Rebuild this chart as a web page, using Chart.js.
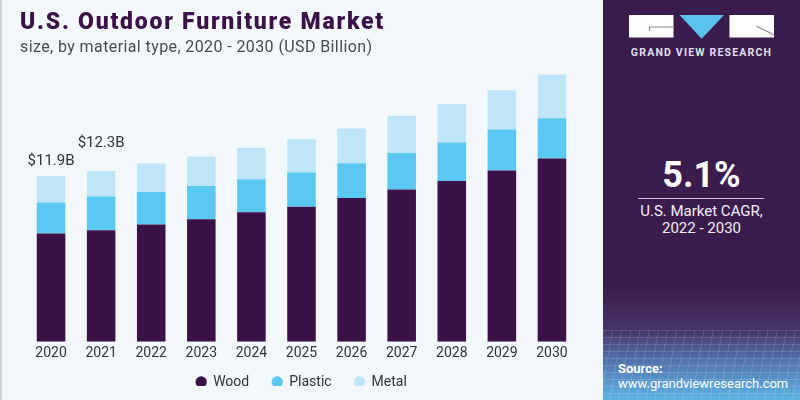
<!DOCTYPE html>
<html lang="en">
<head>
    <meta charset="UTF-8">
    <title>U.S. Outdoor Furniture Market</title>
    <style>
        body {
            margin: 0;
            width: 800px;
            height: 400px;
            position: relative;
            background-color: #f3f8fb;
            font-family: Roboto, "Liberation Sans", Arial, sans-serif;
            overflow: hidden;
        }

        .edge {
            position: absolute;
            left: 0;
            top: 0;
            width: 2px;
            height: 400px;
            background-color: #cfd3d8;
        }

        .title {
            position: absolute;
            left: 20px;
            top: 9px;
            margin: 0;
            font-size: 23px;
            line-height: 26px;
            font-weight: 900;
            letter-spacing: 1.75px;
            color: #3a1248;
            white-space: nowrap;
        }

        .subtitle {
            position: absolute;
            left: 20px;
            top: 38px;
            font-size: 16px;
            line-height: 18px;
            letter-spacing: 0.4px;
            color: #4a4a4a;
            white-space: nowrap;
        }

        #chartBox {
            position: absolute;
            left: 0;
            top: 0;
            width: 603px;
            height: 400px;
        }

        .panel {
            position: absolute;
            left: 603px;
            top: 0;
            width: 197px;
            height: 400px;
            background: linear-gradient(to bottom, #3a1d4d 0px, #3a1d4d 285px, #473468 330px, #5272ab 360px, #5db4e6 400px);
            color: #ffffff;
        }

        .panel .grid {
            position: absolute;
            left: 0;
            top: 330px;
            width: 197px;
            height: 70px;
            background:
                repeating-linear-gradient(to bottom, rgba(255,255,255,0.13) 0 1px, transparent 1px 7px),
                repeating-linear-gradient(100deg, rgba(255,255,255,0.12) 0 1px, transparent 1px 9px);
        }

        .logo {
            position: absolute;
            left: 26px;
            top: 15px;
        }

        .brand {
            position: absolute;
            left: 0;
            width: 197px;
            top: 46px;
            text-align: center;
            font-size: 10.5px;
            font-weight: 700;
            letter-spacing: 1.2px;
            color: #e4dff0;
        }

        .cagr {
            position: absolute;
            left: 0;
            width: 197px;
            top: 154px;
            text-align: center;
            font-size: 36px;
            font-weight: 700;
        }

        .rule {
            position: absolute;
            left: 35px;
            width: 126px;
            top: 198px;
            height: 1px;
            background-color: #cbbfe0;
        }

        .cagrText {
            position: absolute;
            left: 0;
            width: 197px;
            top: 203px;
            text-align: center;
            font-size: 15px;
            line-height: 17px;
            color: #f2eef8;
        }

        .source {
            position: absolute;
            left: 15px;
            top: 361px;
            font-size: 13px;
            line-height: 15px;
            color: #ffffff;
        }
    </style>
</head>
<body>

<div class="edge"></div>

<div id="chartBox">
    <canvas id="myChart" width="603" height="400"></canvas>
</div>

<div class="title">U.S. Outdoor Furniture Market</div>
<div class="subtitle">size, by material type, 2020 - 2030 (USD Billion)</div>

<div class="panel">
    <div class="grid"></div>
    <svg class="logo" width="146" height="25" viewBox="0 0 146 25">
        <rect x="0" y="0" width="44.5" height="22.5" fill="#ffffff"/>
        <path d="M20.5 16 V12 H44.5" stroke="#8a8a8a" stroke-width="1.2" fill="none"/>
        <polygon points="50.5,0 95,0 72.7,23.7" fill="#5bc1ee"/>
        <rect x="100.5" y="0" width="44.5" height="22.5" fill="#ffffff"/>
        <path d="M127.5 11.3 L145 19.7" stroke="#8a8a8a" stroke-width="1.2" fill="none"/>
    </svg>
    <div class="brand">GRAND VIEW RESEARCH</div>
    <div class="cagr">5.1%</div>
    <div class="rule"></div>
    <div class="cagrText">U.S. Market CAGR,<br>2022 - 2030</div>
    <div class="source"><b>Source:</b><br>www.grandviewresearch.com</div>
</div>

<script src="https://cdn.jsdelivr.net/npm/chart.js"></script>
<script>
    // Werte in Mrd. USD
    const years = ['2020', '2021', '2022', '2023', '2024', '2025', '2026', '2027', '2028', '2029', '2030'];
    const wood = [7.77, 8.00, 8.41, 8.79, 9.30, 9.68, 10.32, 10.93, 11.54, 12.29, 13.15];
    const plastic = [2.23, 2.42, 2.34, 2.39, 2.37, 2.47, 2.49, 2.61, 2.76, 2.94, 2.89];
    const metal = [1.90, 1.84, 2.04, 2.11, 2.25, 2.39, 2.49, 2.68, 2.77, 2.82, 3.14];
    const totalLabels = ['$11.9B', '$12.3B'];

    // Abstand der Summen-Beschriftung über dem Balken (px)
    const labelLift = [15, 28];

    const totalsPlugin = {
        id: 'totals',
        afterDatasetsDraw(chart) {
            const c = chart.ctx;
            const xs = chart.scales.x;
            const ys = chart.scales.y;
            c.save();
            c.font = '15px Roboto, "Liberation Sans", sans-serif';
            c.fillStyle = '#333333';
            c.textAlign = 'center';
            c.textBaseline = 'middle';
            totalLabels.forEach((txt, i) => {
                const sum = wood[i] + plastic[i] + metal[i];
                c.fillText(txt, xs.getPixelForValue(i), ys.getPixelForValue(sum) - labelLift[i]);
            });
            c.restore();
        }
    };

    // Legende: feste Höhe, danach etwas nach oben rücken (padding wirkt auch horizontal)
    const legendFit = {
        id: 'legendFit',
        beforeInit(chart) {
            const origFit = chart.legend.fit;
            chart.legend.fit = function () {
                origFit.call(this);
                this.height = 34;
            };
        },
        afterLayout(chart) {
            const lg = chart.legend;
            const shift = lg.top - 352;
            lg.top -= shift;
            lg.bottom -= shift;
        }
    };

    const ctx = document.getElementById('myChart').getContext('2d');

    const data = {
        labels: years,
        datasets: [
            { label: 'Wood', data: wood, backgroundColor: '#3a1248' },
            { label: 'Plastic', data: plastic, backgroundColor: '#5bc8f2' },
            { label: 'Metal', data: metal, backgroundColor: '#bee6f8' }
        ]
    };

    const options = {
        responsive: false,
        animation: false,
        datasets: {
            bar: {
                barPercentage: 0.57,
                categoryPercentage: 1.0,
                borderWidth: 0
            }
        },
        plugins: {
            legend: {
                position: 'bottom',
                labels: {
                    usePointStyle: true,
                    pointStyle: 'circle',
                    boxWidth: 10,
                    boxHeight: 8,
                    padding: 23,
                    color: '#333333',
                    font: { family: 'Roboto', size: 14 }
                }
            },
            tooltip: { enabled: false }
        },
        scales: {
            x: {
                stacked: true,
                grid: { display: false, drawTicks: false },
                border: { display: false },
                ticks: {
                    color: '#333333',
                    padding: 3.5,
                    font: { family: 'Roboto', size: 14 }
                },
                afterFit(axis) {
                    axis.height = 24.3;
                }
            },
            y: {
                stacked: true,
                display: false,
                min: 0,
                max: 24.53
            }
        },
        layout: {
            padding: { left: 26, right: 26, top: 0, bottom: 0 }
        }
    };

    const myChart = new Chart(ctx, {
        type: 'bar',
        data: data,
        options: options,
        plugins: [totalsPlugin, legendFit]
    });
</script>

</body>
</html>
